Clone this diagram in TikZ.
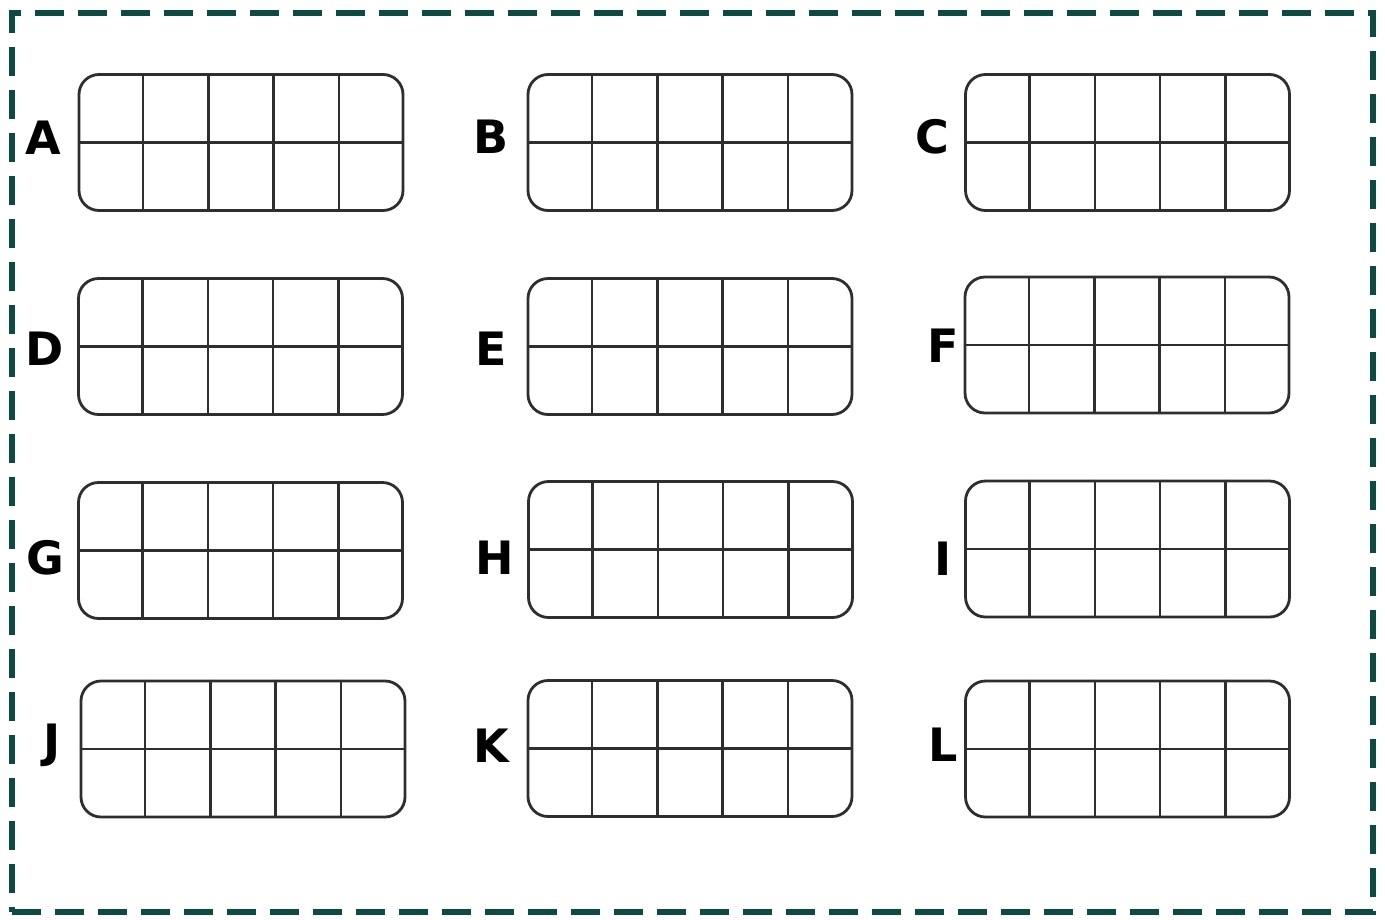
\documentclass[tikz,border=0pt]{standalone}
\usepackage{fontspec}
\setmainfont{DejaVu Sans}
\usetikzlibrary{calc}
\definecolor{borderteal}{HTML}{0E4A44}
\definecolor{gridgray}{HTML}{2E2E2E}
\tikzset{
  tenframe/.style={draw=gridgray, line width=2.8pt, rounded corners=20pt,
    minimum width=324pt, minimum height=136pt, inner sep=0pt, fill=white},
  gridline/.style={draw=gridgray, line width=2.6pt},
  letter/.style={font=\fontsize{46}{46}\selectfont\bfseries, text=black, inner sep=0pt},
  outerborder/.style={draw=borderteal, line width=6.5pt, dash pattern=on 29pt off 14pt}
}
\newcommand{\makeframe}[5]{%
  % #1 name, #2 cx, #3 cy, #4 letter, #5 letter position
  \node[tenframe] (f#1) at (#2,#3) {};
  \draw[gridline] (f#1.west) -- (f#1.east);
  \foreach \t in {0.2,0.4,0.6,0.8}{
    \draw[gridline] ($(f#1.north west)!\t!(f#1.north east)$) -- ($(f#1.south west)!\t!(f#1.south east)$);
  }
  \node[letter] (l#1) at #5 {#4};
}
\begin{document}
\begin{tikzpicture}[x=1pt,y=-1pt]
\useasboundingbox (0,0) rectangle (1385,919);
\node[outerborder, minimum width=1361pt, minimum height=899pt, inner sep=0pt] (border) at (692.5,462.5) {};
\makeframe{A}{241}{142.5}{A}{(43,138)}
\makeframe{B}{690}{142.5}{B}{(491,137)}
\makeframe{C}{1127.5}{142.5}{C}{(932,137)}
\makeframe{D}{240.5}{346.5}{D}{(45,349)}
\makeframe{E}{690}{346.5}{E}{(491,349)}
\makeframe{F}{1127}{345}{F}{(943,346)}
\makeframe{G}{240.5}{550.5}{G}{(45,558)}
\makeframe{H}{690.5}{549.5}{H}{(495,558)}
\makeframe{I}{1127.5}{549}{I}{(943,559)}
\makeframe{J}{243}{749}{J}{(52,745)}
\makeframe{K}{690}{748.5}{K}{(491,746)}
\makeframe{L}{1127.5}{749}{L}{(943,745)}
\end{tikzpicture}
\end{document}
